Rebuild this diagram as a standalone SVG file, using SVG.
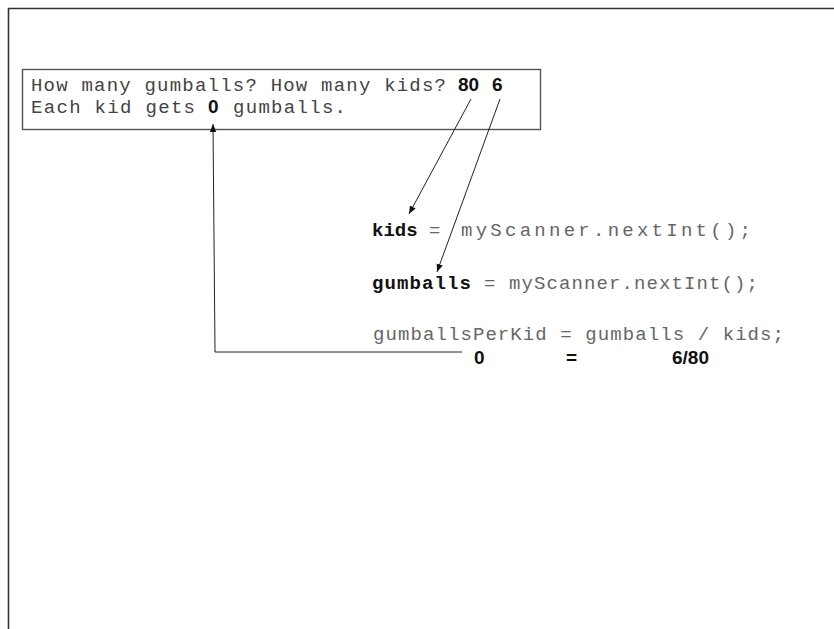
<svg xmlns="http://www.w3.org/2000/svg" width="834" height="629" viewBox="0 0 834 629">
<defs>
<style>
.mono{font-family:"Liberation Mono","Courier New",monospace;fill:#444;font-size:19px}
.code{font-family:"Liberation Mono","Courier New",monospace;fill:#666;font-size:19px}
.bold{font-weight:bold;fill:#111}
.val{font-family:"Liberation Sans",Arial,sans-serif;font-weight:bold;fill:#111}
.conn{stroke:#222;stroke-width:1;fill:none}
</style>
<marker id="ah" viewBox="0 0 10 10" refX="10" refY="5" markerWidth="8" markerHeight="8" markerUnits="userSpaceOnUse" orient="auto">
<path d="M0,1 L10,5 L0,9 Z" fill="#111"/>
</marker>
</defs>
<rect width="834" height="629" fill="#fff"/>
<g id="frame">
<path d="M8.5,629 L8.5,8.5 L834,8.5" fill="none" stroke="#333" stroke-width="1.6"/>
</g>
<g id="console">
<rect x="22.5" y="69.5" width="518" height="60" fill="#fff" stroke="#555" stroke-width="1.4"/>
<text class="mono" x="31" y="91" textLength="415" lengthAdjust="spacing">How many gumballs? How many kids?</text>
<text class="val" x="458" y="91" font-size="19">80</text>
<text class="val" x="492" y="91" font-size="19">6</text>
<text class="mono" x="31" y="113" textLength="164" lengthAdjust="spacing">Each kid gets</text>
<text class="val" x="208" y="113" font-size="19">0</text>
<text class="mono" x="233" y="113" textLength="113" lengthAdjust="spacing">gumballs.</text>
</g>
<g id="line-kids">
<text class="code" x="372" y="236"><tspan class="bold">kids</tspan> =</text>
<text class="code" x="461" y="236" font-size="21" textLength="290" lengthAdjust="spacing">myScanner.nextInt();</text>
</g>
<g id="line-gumballs">
<text class="code bold" x="372" y="289" textLength="99" lengthAdjust="spacing">gumballs</text>
<text class="code" x="484" y="289">=</text>
<text class="code" x="509" y="289" textLength="249" lengthAdjust="spacing">myScanner.nextInt();</text>
</g>
<g id="line-perkid">
<text class="code" x="373" y="340" textLength="411" lengthAdjust="spacing">gumballsPerKid = gumballs / kids;</text>
</g>
<g id="values">
<text class="val" x="474" y="364" font-size="19">0</text>
<text class="val" x="566" y="364" font-size="19">=</text>
<text class="val" x="672" y="364" font-size="19">6/80</text>
</g>
<g id="connectors">
<line class="conn" x1="471" y1="99" x2="409" y2="214" marker-end="url(#ah)"/>
<line class="conn" x1="500" y1="99" x2="437" y2="272" marker-end="url(#ah)"/>
<polyline class="conn" points="462,352 215,352 213,124" marker-end="url(#ah)"/>
</g>
</svg>
